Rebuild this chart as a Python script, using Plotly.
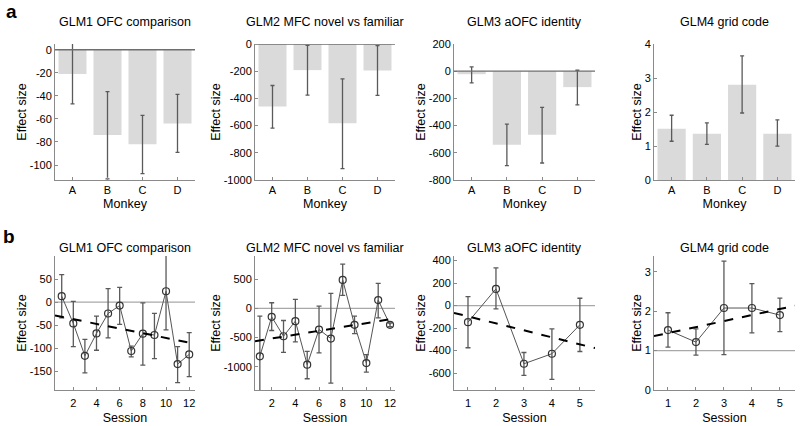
import plotly.graph_objects as go

# ---------------- data ----------------
monkeys = ["A", "B", "C", "D"]
titles = ["GLM1 OFC comparison", "GLM2 MFC novel vs familiar", "GLM3 aOFC identity", "GLM4 grid code"]

# row a: bar values with confidence bounds
glm1_bar = [-21, -74, -82, -64]
glm1_bar_hi = [5.5, -36.4, -57, -38.7]
glm1_bar_lo = [-47, -112, -107.5, -89]

glm2_bar = [-460, -192, -582, -195]
glm2_bar_hi = [-305, -10, -256, -12]
glm2_bar_lo = [-619, -376, -917, -378]

glm3_bar = [-22, -541, -467, -117]
glm3_bar_hi = [32, -389, -266, 7]
glm3_bar_lo = [-86, -695, -675, -247]

glm4_bar = [1.51, 1.36, 2.80, 1.36]
glm4_bar_hi = [1.905, 1.68, 3.65, 1.77]
glm4_bar_lo = [1.14, 1.05, 1.97, 0.995]

# row b: per-session values with bounds
sessions12 = [1, 2, 3, 4, 5, 6, 7, 8, 9, 10, 11, 12]
sessions5 = [1, 2, 3, 4, 5]

glm1_sess = [13, -46, -116, -67.5, -24.4, -7.2, -105.6, -68, -71, 23.7, -134, -113]
glm1_sess_hi = [59.7, 2, -80.5, -30, 29.5, 32, -95, -1.4, -24, 108, -96, -66]
glm1_sess_lo = [-34, -96, -153, -104, -77, -48, -118.5, -136, -122, -60, -174, -161]
glm1_trend = (-26.6, -5.07)  # intercept, slope

glm2_sess = [-822, -144, -477, -218, -966, -362, -517, 489, -282, -937, 144, -282]
glm2_sess_hi = [-132, 98, -207, 155, -736, 40, 259, 759, -132, -793, 431, -250]
glm2_sess_lo = [-1512, -379, -753, -575, -1207, -764, -1282, 224, -431, -1092, -161, -314]
glm2_trend = (-582.5, 33.0)

glm3_sess = [-148, 148, -517, -428, -171]
glm3_sess_hi = [80, 334, -417, -207, 65]
glm3_sess_lo = [-375, -30, -620, -656, -408]
glm3_trend = (-34, -62.1)

glm4_sess = [1.52, 1.215, 2.08, 2.08, 1.90]
glm4_sess_hi = [1.96, 1.55, 3.27, 2.70, 2.33]
glm4_sess_lo = [1.09, 0.886, 0.90, 1.45, 1.48]
glm4_trend = (1.29, 0.153)

# ---------------- layout geometry ----------------
W, H = 800, 426
col_px = [(55, 195), (255, 395), (454, 595), (654, 795)]
row_a_px = (44, 180)
row_b_px = (256, 390)

bar_sets = [
    (glm1_bar, glm1_bar_hi, glm1_bar_lo, [-113, 5], [0, -20, -40, -60, -80, -100], 0),
    (glm2_bar, glm2_bar_hi, glm2_bar_lo, [-1000, 0], [0, -200, -400, -600, -800, -1000], 0),
    (glm3_bar, glm3_bar_hi, glm3_bar_lo, [-800, 200], [200, 0, -200, -400, -600, -800], 0),
    (glm4_bar, glm4_bar_hi, glm4_bar_lo, [0, 4], [0, 1, 2, 3, 4], None),
]
sess_sets = [
    (sessions12, glm1_sess, glm1_sess_hi, glm1_sess_lo, glm1_trend, [-190, 100], [0.42, 12.5],
     [50, 0, -50, -100, -150], [2, 4, 6, 8, 10, 12], 0),
    (sessions12, glm2_sess, glm2_sess_hi, glm2_sess_lo, glm2_trend, [-1400, 900], [0.59, 12.42],
     [500, 0, -500, -1000], [2, 4, 6, 8, 10, 12], 0),
    (sessions5, glm3_sess, glm3_sess_hi, glm3_sess_lo, glm3_trend, [-750, 440], [0.5, 5.54],
     [400, 200, 0, -200, -400, -600], [1, 2, 3, 4, 5], 0),
    (sessions5, glm4_sess, glm4_sess_hi, glm4_sess_lo, glm4_trend, [0, 3.4], [0.5, 5.54],
     [0, 1, 2, 3], [1, 2, 3, 4, 5], 1),
]

FONT = "Liberation Sans, Arial, Helvetica, sans-serif"
AX_COL = "#8a8a8a"
TICK_SIZE = 11
LABEL_SIZE = 12.5

fig = go.Figure()
layout = dict(
    width=W, height=H,
    margin=dict(l=0, r=0, t=0, b=0),
    paper_bgcolor="white", plot_bgcolor="white",
    showlegend=False, hovermode=False,
    font=dict(family=FONT, size=12, color="black"),
)
shapes = []
annotations = []


def axis_common():
    return dict(showline=True, linecolor=AX_COL, linewidth=1, ticks="inside", ticklen=3,
                tickcolor=AX_COL, showgrid=False, zeroline=False, automargin=False,
                tickfont=dict(family=FONT, size=TICK_SIZE, color="black"))


def ydom(px):
    return [1 - px[1] / H, 1 - px[0] / H]


def xdom(px):
    return [px[0] / W, px[1] / W]


def fmt(v):
    return str(v)


def ttl(text, standoff):
    return dict(text=text, standoff=standoff, font=dict(family=FONT, size=LABEL_SIZE, color="black"))


# row a
for i, (vals, hi, lo, yr, yt, zline) in enumerate(bar_sets):
    n = i + 1
    xa, ya = ("x" if n == 1 else f"x{n}"), ("y" if n == 1 else f"y{n}")
    err_p = [h - v for h, v in zip(hi, vals)]
    err_m = [v - l for v, l in zip(vals, lo)]
    fig.add_trace(go.Bar(
        x=[1, 2, 3, 4], y=vals, width=0.8, marker=dict(color="#dadada", line=dict(width=0)),
        error_y=dict(type="data", symmetric=False, array=err_p, arrayminus=err_m,
                     color="#5a5a5a", thickness=1.3, width=2),
        xaxis=xa, yaxis=ya))
    xk = "xaxis" if n == 1 else f"xaxis{n}"
    yk = "yaxis" if n == 1 else f"yaxis{n}"
    layout[xk] = dict(axis_common(), domain=xdom(col_px[i]), range=[0.5, 4.5], anchor=ya,
                      tickvals=[1, 2, 3, 4], ticktext=monkeys, title=ttl("Monkey", 4))
    layout[yk] = dict(axis_common(), domain=ydom(row_a_px), range=yr, anchor=xa,
                      tickvals=yt, ticktext=[fmt(v) for v in yt], title=ttl("Effect size", 0))
    if zline is not None:
        shapes.append(dict(type="line", xref=f"{xa} domain", yref=ya, x0=0, x1=1, y0=zline, y1=zline,
                           line=dict(color="#6e6e6e", width=1.3), layer="above"))
    annotations.append(dict(text=titles[i], x=(col_px[i][0] + col_px[i][1]) / 2 / W, y=1 - 22 / H,
                            xref="paper", yref="paper", showarrow=False, xanchor="center", yanchor="middle",
                            font=dict(size=LABEL_SIZE, color="black")))

# row b
for i, (xs, vals, hi, lo, trend, yr, xr, yt, xt, refline) in enumerate(sess_sets):
    n = i + 5
    xa, ya = f"x{n}", f"y{n}"
    err_p = [h - v for h, v in zip(hi, vals)]
    err_m = [v - l for v, l in zip(vals, lo)]
    shapes.append(dict(type="line", xref=f"{xa} domain", yref=ya, x0=0, x1=1, y0=refline, y1=refline,
                       line=dict(color="#a8a8a8", width=1.3), layer="below"))
    fig.add_trace(go.Scatter(
        x=xs, y=vals, mode="lines+markers",
        line=dict(color="#555555", width=1),
        marker=dict(symbol="circle-open", size=7, color="#333333", line=dict(width=1.2)),
        error_y=dict(type="data", symmetric=False, array=err_p, arrayminus=err_m,
                     color="#5a5a5a", thickness=1.3, width=2.5),
        xaxis=xa, yaxis=ya))
    b0, b1 = trend
    fig.add_trace(go.Scatter(
        x=xr, y=[b0 + b1 * xr[0], b0 + b1 * xr[1]], mode="lines",
        line=dict(color="black", width=2, dash="dash"), xaxis=xa, yaxis=ya))
    layout[f"xaxis{n}"] = dict(axis_common(), domain=xdom(col_px[i]), range=xr, anchor=ya,
                               tickvals=xt, ticktext=[fmt(v) for v in xt], ticklabelstandoff=3,
                               title=ttl("Session", 5))
    layout[f"yaxis{n}"] = dict(axis_common(), domain=ydom(row_b_px), range=yr, anchor=xa,
                               tickvals=yt, ticktext=[fmt(v) for v in yt], title=ttl("Effect size", 0))
    annotations.append(dict(text=titles[i], x=(col_px[i][0] + col_px[i][1]) / 2 / W, y=1 - 248 / H,
                            xref="paper", yref="paper", showarrow=False, xanchor="center", yanchor="middle",
                            font=dict(size=LABEL_SIZE, color="black")))

annotations.append(dict(text="<b>a</b>", x=11 / W, y=1 - 12 / H, xref="paper", yref="paper",
                        showarrow=False, xanchor="center", yanchor="middle", font=dict(size=19, color="black")))
annotations.append(dict(text="<b>b</b>", x=9 / W, y=1 - 236 / H, xref="paper", yref="paper",
                        showarrow=False, xanchor="center", yanchor="middle", font=dict(size=19, color="black")))

layout["shapes"] = shapes
layout["annotations"] = annotations
fig.update_layout(**layout)
fig.write_html("out.html", config={"displayModeBar": False},
               post_script="document.body.style.margin='0px';document.body.style.overflow='hidden';")
